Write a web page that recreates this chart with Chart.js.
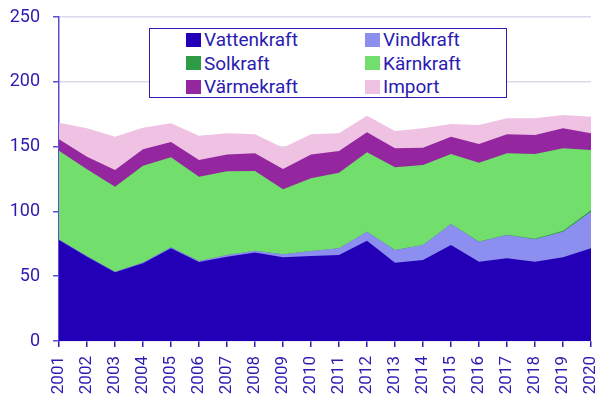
<!DOCTYPE html>
<html>
<head>
<meta charset="utf-8">
<script src="https://cdn.jsdelivr.net/npm/chart.js@4/dist/chart.umd.min.js"></script>
<style>
  html, body { margin: 0; padding: 0; background: #fff; }
  #wrap { position: relative; width: 605px; height: 412px; }
  #legend {
    position: absolute; left: 149px; top: 28px; width: 356px; height: 68px;
    border: 1.5px solid #2b1bb0; background: #fff;
    display: grid; grid-template-columns: 179px 177px; grid-auto-rows: 23.5px;
    box-sizing: content-box;
    font-family: Roboto, sans-serif; font-size: 19px; color: #2b1bb0;
  }
  #legend .item { display: flex; align-items: center; padding-left: 36px; margin-top: -2px; }
  #legend .sw { width: 15px; height: 14px; margin-right: 3px; flex: none; }
</style>
</head>
<body>
<div id="wrap">
  <canvas id="chart" width="605" height="412"></canvas>
  <div id="legend"></div>
</div>
<script>
const years = ['2001', '2002', '2003', '2004', '2005', '2006', '2007', '2008', '2009', '2010',
               '2011', '2012', '2013', '2014', '2015', '2016', '2017', '2018', '2019', '2020'];

// TWh per source, stacked bottom to top
const vattenkraft = [77.9, 65.0, 53.0, 59.9, 71.5, 61.0, 65.0, 68.2, 64.6, 65.6,
                     66.4, 77.4, 60.4, 62.5, 74.1, 61.2, 63.8, 61.2, 64.6, 71.5];
const vindkraft   = [0.4, 0.5, 0.4, 0.7, 0.8, 0.8, 1.4, 1.5, 2.3, 3.8,
                     5.1, 6.9, 9.8, 11.6, 16.2, 15.4, 18.0, 17.3, 19.7, 28.3];
const solkraft    = [0, 0, 0, 0, 0, 0, 0, 0, 0, 0,
                     0, 0, 0, 0, 0, 0.1, 0.2, 0.4, 0.7, 1.1];
const karnkraft   = [68.5, 67.0, 65.7, 74.7, 69.4, 65.0, 64.5, 61.5, 50.1, 56.1,
                     58.4, 61.3, 63.8, 61.7, 54.0, 60.9, 62.8, 65.4, 63.7, 46.5];
const varmekraft  = [8.8, 9.7, 12.8, 12.6, 11.8, 12.9, 13.1, 13.6, 15.7, 18.5,
                     16.7, 15.4, 14.7, 13.4, 13.3, 14.4, 14.7, 14.6, 15.4, 12.9];
const importData  = [12.8, 21.9, 25.7, 16.7, 14.5, 18.7, 16.3, 14.7, 16.5, 15.5,
                     13.7, 12.9, 13.3, 14.9, 9.8, 14.7, 12.3, 12.9, 10.3, 12.7];

const yTicks = [0, 50, 100, 150, 200, 250];

const textColor = '#2b1bb0';

function area(label, data, color) {
    return {
        label,
        data,
        backgroundColor: color,
        borderColor: color,
        borderWidth: 0,
        pointRadius: 0,
        tension: 0,
        fill: 'origin',
    };
}

const htmlLegend = {
    id: 'htmlLegend',
    afterUpdate(chart) {
        const box = document.getElementById('legend');
        box.innerHTML = '';
        chart.data.datasets.forEach(ds => {
            const item = document.createElement('div');
            item.className = 'item';
            const sw = document.createElement('span');
            sw.className = 'sw';
            sw.style.background = ds.backgroundColor;
            const txt = document.createElement('span');
            txt.textContent = ds.label;
            item.appendChild(sw);
            item.appendChild(txt);
            box.appendChild(item);
        });
    },
};

new Chart(document.getElementById('chart'), {
    type: 'line',
    data: {
        labels: years,
        datasets: [
            area('Vattenkraft', vattenkraft, '#2300b7'),
            area('Vindkraft', vindkraft, '#8c8ff0'),
            area('Solkraft', solkraft, '#2e9b45'),
            area('Kärnkraft', karnkraft, '#72de6b'),
            area('Värmekraft', varmekraft, '#94279f'),
            area('Import', importData, '#efc1e3'),
        ],
    },
    options: {
        responsive: false,
        animation: false,
        layout: { padding: { top: 17, right: 14, bottom: 0, left: 0 } },
        plugins: {
            legend: { display: false },
            tooltip: { enabled: false },
        },
        scales: {
            x: {
                grid: { drawOnChartArea: false, tickLength: 6, color: textColor, lineWidth: 1.5 },
                border: { display: false },
                ticks: {
                    color: textColor,
                    font: { family: 'Roboto', size: 17 },
                    minRotation: 90,
                    maxRotation: 90,
                    padding: 9,
                    autoSkip: false,
                },
                afterFit: scale => {
                    scale.height = 71;
                    scale.paddingLeft = 0;
                    scale.paddingRight = 0;
                },
            },
            y: {
                stacked: true,
                min: 0,
                max: 250,
                afterBuildTicks: scale => { scale.ticks = yTicks.map(v => ({ value: v })); },
                grid: {
                    color: '#d9d9f0',
                    lineWidth: 1.5,
                    tickLength: 6,
                    tickColor: '#5a4fd0',
                },
                border: { color: '#5a4fd0', width: 1.5 },
                ticks: {
                    color: textColor,
                    font: { family: 'Roboto', size: 18 },
                    padding: 13,
                },
                afterFit: scale => {
                    scale.width = 59;
                    scale.paddingTop = 0;
                    scale.paddingBottom = 0;
                },
            },
        },
    },
    plugins: [htmlLegend],
});
</script>
</body>
</html>
